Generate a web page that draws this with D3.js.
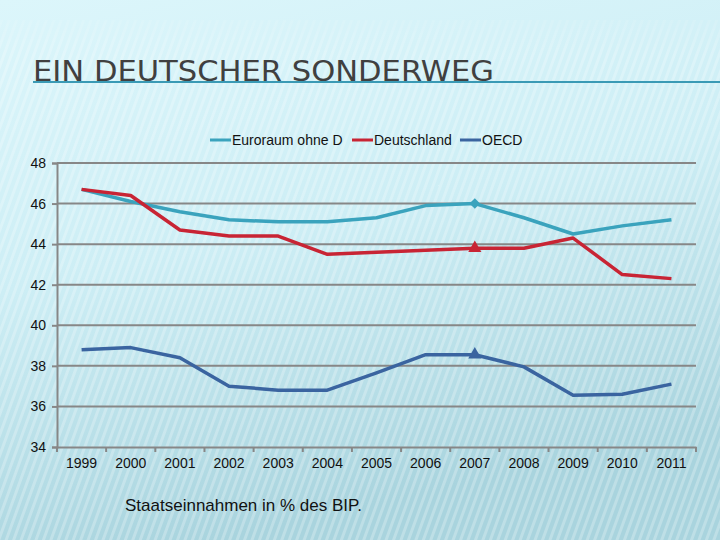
<!DOCTYPE html>
<html><head><meta charset="utf-8">
<script src="https://cdn.jsdelivr.net/npm/d3@7/dist/d3.min.js"></script>
<style>body{margin:0;padding:0;}svg{display:block;}</style>
</head><body>
<svg id="chart" width="720" height="540"></svg>
<script>
const years = ["1999","2000","2001","2002","2003","2004","2005","2006","2007","2008","2009","2010","2011"];
const euroraum = [46.7,46.1,45.6,45.2,45.1,45.1,45.3,45.9,46.0,45.3,44.5,44.9,45.2];
const deutschland = [46.7,46.4,44.7,44.4,44.4,43.5,43.6,43.7,43.8,43.8,44.3,42.5,42.3];
const oecd = [38.8,38.9,38.4,37.0,36.8,36.8,37.65,38.55,38.55,37.95,36.55,36.6,37.1];
const yTicks = [34,36,38,40,42,44,46,48];
const seriesNames = ["Euroraum ohne D","Deutschland","OECD"];
const seriesColors = ["#3aa3bd","#c82434","#3a64a0"];
const markerIndex = 8;

(function(){
const svg = d3.select("#chart");
const defs = svg.append("defs");
const bg = defs.append("linearGradient").attr("id","bg").attr("x1",0).attr("y1",0).attr("x2",0.3).attr("y2",1);
bg.append("stop").attr("offset","0%").attr("stop-color","#dcf6fb");
bg.append("stop").attr("offset","50%").attr("stop-color","#cdeef5");
bg.append("stop").attr("offset","100%").attr("stop-color","#a9d4de");
const pat = defs.append("pattern").attr("id","stripes").attr("patternUnits","userSpaceOnUse")
  .attr("width",7).attr("height",7).attr("patternTransform","rotate(20)");
pat.append("rect").attr("width",3).attr("height",7).attr("fill","#ffffff").attr("opacity",0.25);
const fade = defs.append("linearGradient").attr("id","fade").attr("x1",0).attr("y1",0).attr("x2",0).attr("y2",1);
fade.append("stop").attr("offset","0%").attr("stop-color","#fff").attr("stop-opacity",0);
fade.append("stop").attr("offset","10%").attr("stop-color","#fff").attr("stop-opacity",1);
fade.append("stop").attr("offset","100%").attr("stop-color","#fff").attr("stop-opacity",1);
const mask = defs.append("mask").attr("id","m");
mask.append("rect").attr("width",720).attr("height",540).attr("fill","url(#fade)");

svg.append("rect").attr("width",720).attr("height",540).attr("fill","url(#bg)");
svg.append("rect").attr("y",20).attr("width",720).attr("height",520).attr("fill","url(#stripes)").attr("mask","url(#m)");

svg.append("text").attr("x",33).attr("y",81).attr("font-family","DejaVu Sans Condensed, Liberation Sans, sans-serif")
  .attr("font-size",28).attr("fill","#404040").attr("textLength",461).attr("lengthAdjust","spacingAndGlyphs")
  .text("EIN DEUTSCHER SONDERWEG");
svg.append("line").attr("x1",33).attr("x2",720).attr("y1",82).attr("y2",82).attr("stroke","#3a9ab5").attr("stroke-width",2);

const pLeft = 57, pRight = 696, pTop = 163, pBottom = 447;
const x = d3.scaleBand().domain(years).range([pLeft,pRight]);
const y = d3.scaleLinear().domain([34,48]).range([pBottom,pTop]);

svg.append("g").selectAll("line").data(yTicks.filter(t=>t>34)).join("line")
  .attr("x1",pLeft).attr("x2",pRight).attr("y1",d=>y(d)).attr("y2",d=>y(d))
  .attr("stroke","#878787").attr("stroke-width",2);

const font = "Liberation Sans, Arial, sans-serif";
const yAxis = svg.append("g").attr("transform",`translate(${pLeft},0)`)
  .call(d3.axisLeft(y).tickValues(yTicks).tickSize(5).tickPadding(6).tickFormat(d3.format("d")));
yAxis.select(".domain").attr("stroke","#878787").attr("stroke-width",2);
yAxis.selectAll(".tick line").attr("stroke","#878787").attr("stroke-width",2);
yAxis.selectAll("text").attr("font-family",font).attr("font-size",14).attr("fill","#111");

const xAxis = svg.append("g").attr("transform",`translate(0,${pBottom})`)
  .call(d3.axisBottom(x).tickSize(0).tickPadding(11));
xAxis.select(".domain").attr("stroke","#878787").attr("stroke-width",2);
xAxis.selectAll("text").attr("font-family",font).attr("font-size",14).attr("fill","#111");
const bounds = years.map(d=>x(d)).concat([pRight]);
xAxis.append("g").selectAll("line").data(bounds).join("line")
  .attr("x1",d=>d).attr("x2",d=>d).attr("y1",0).attr("y2",5)
  .attr("stroke","#878787").attr("stroke-width",2);

const cx = d=>x(d)+x.bandwidth()/2;
const line = d3.line().x((v,i)=>cx(years[i])).y(v=>y(v));
const allSeries = [euroraum, deutschland, oecd];
allSeries.forEach((s,k)=>{
  svg.append("path").datum(s).attr("d",line).attr("fill","none")
    .attr("stroke",seriesColors[k]).attr("stroke-width",3.5).attr("stroke-linejoin","round");
});
const sym = [d3.symbolSquare, d3.symbolTriangle, d3.symbolTriangle];
const rot = [45,0,0];
allSeries.forEach((s,k)=>{
  svg.append("path").attr("d",d3.symbol().type(sym[k]).size(k===0?56:75)())
    .attr("transform",`translate(${cx(years[markerIndex])},${y(s[markerIndex])}) rotate(${rot[k]})`)
    .attr("fill",seriesColors[k]);
});

const legX = [210,352,460];
const lg = svg.append("g");
seriesNames.forEach((n,k)=>{
  lg.append("line").attr("x1",legX[k]).attr("x2",legX[k]+21).attr("y1",140).attr("y2",140)
    .attr("stroke",seriesColors[k]).attr("stroke-width",3);
  lg.append("text").attr("x",legX[k]+22).attr("y",145).attr("font-family",font).attr("font-size",14)
    .attr("fill","#111").text(n);
});

svg.append("text").attr("x",125).attr("y",511).attr("font-family",font).attr("font-size",17)
  .attr("fill","#111").text("Staatseinnahmen in % des BIP.");
})();
</script>
</body></html>
